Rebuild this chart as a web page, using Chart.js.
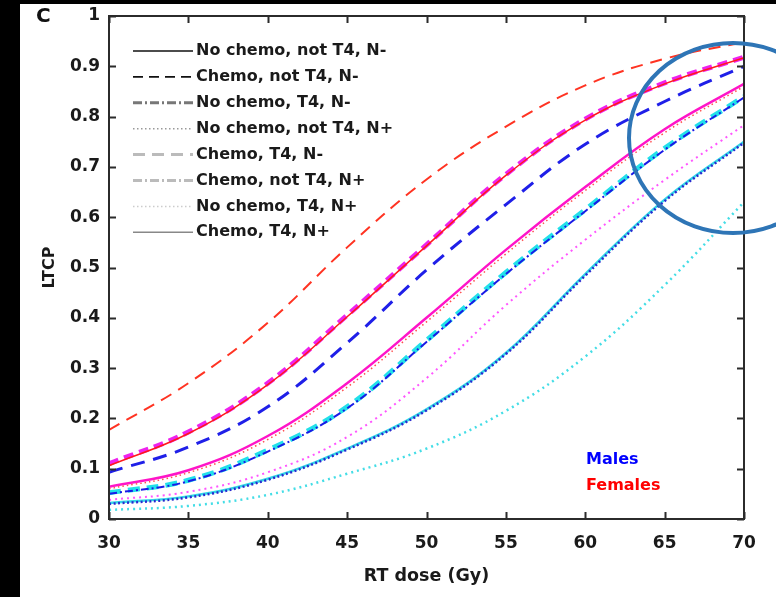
<!DOCTYPE html>
<html>
<head>
<meta charset="utf-8">
<script src="https://cdn.jsdelivr.net/npm/chart.js@4.4.1/dist/chart.umd.min.js"></script>
<style>
    html, body { margin: 0; padding: 0; background: #000; }
    #panel { position: absolute; left: 20px; top: 4px; width: 756px; height: 593px; background: #fff; }
    canvas { display: block; }
</style>
</head>
<body>
<div id="panel"><canvas id="ltcpChart" width="756" height="593"></canvas></div>
<script>
// RT dose (Gy)
const doses = [30, 35, 40, 45, 50, 55, 60, 65, 70];

// Females
const femChemoNotT4Nneg   = [0.177, 0.27, 0.39, 0.54, 0.675, 0.78, 0.862, 0.915, 0.948];
const femChemoT4Nneg      = [0.11, 0.173, 0.27, 0.405, 0.545, 0.685, 0.795, 0.867, 0.918];
const femNoChemoNotT4Nneg = [0.106, 0.17, 0.267, 0.402, 0.543, 0.683, 0.793, 0.865, 0.917];
const femChemoT4Npos      = [0.064, 0.097, 0.165, 0.27, 0.40, 0.535, 0.66, 0.775, 0.865];
const femNoChemoNotT4Npos = [0.06, 0.092, 0.158, 0.262, 0.392, 0.527, 0.653, 0.768, 0.86];
const femNoChemoT4Npos    = [0.038, 0.054, 0.093, 0.163, 0.28, 0.425, 0.555, 0.674, 0.783];

// Males
const maleChemoNotT4Nneg   = [0.093, 0.143, 0.223, 0.35, 0.495, 0.625, 0.745, 0.83, 0.90];
const maleChemoT4Nneg      = [0.052, 0.077, 0.137, 0.223, 0.355, 0.49, 0.615, 0.737, 0.84];
const maleNoChemoT4Nneg    = [0.05, 0.075, 0.134, 0.22, 0.352, 0.487, 0.612, 0.734, 0.838];
const maleChemoT4Npos      = [0.032, 0.045, 0.08, 0.14, 0.218, 0.33, 0.487, 0.635, 0.75];
const maleNoChemoNotT4Npos = [0.03, 0.043, 0.078, 0.138, 0.216, 0.328, 0.484, 0.632, 0.748];
const maleNoChemoT4Npos    = [0.018, 0.026, 0.048, 0.09, 0.14, 0.215, 0.323, 0.465, 0.63];

// legend entries (grey-scale key)
const legendLabels = [
    'No chemo, not T4, N-',
    'Chemo, not T4, N-',
    'No chemo, T4, N-',
    'No chemo, not T4, N+',
    'Chemo, T4, N-',
    'Chemo, not T4, N+',
    'No chemo, T4, N+',
    'Chemo, T4, N+'
];
const legendStyles = [
    { color: '#111', width: 1.5, dash: [] },
    { color: '#111', width: 1.8, dash: [10, 6] },
    { color: '#777', width: 3, dash: [9, 3, 2, 3] },
    { color: '#999', width: 1.5, dash: [1.5, 2.5] },
    { color: '#bbb', width: 3, dash: [12, 7] },
    { color: '#bbb', width: 3, dash: [9, 3, 2, 3] },
    { color: '#ccc', width: 1.5, dash: [1.5, 2.5] },
    { color: '#888', width: 1.5, dash: [] }
];

const FONT = '"DejaVu Sans", sans-serif';

function series(label, values, color, width, dash) {
    return {
        label: label,
        data: doses.map((d, i) => ({ x: d, y: values[i] })),
        borderColor: color,
        borderWidth: width,
        borderDash: dash,
        pointRadius: 0,
        fill: false,
        tension: 0.4
    };
}

// first dataset ends up on top
const datasets = [
    series('Females: No chemo, not T4, N-', femNoChemoNotT4Nneg, '#ff1a1a', 1.5, []),
    series('Males: No chemo, T4, N-', maleNoChemoT4Nneg, '#1a1ae6', 2, [8, 3, 2, 3]),
    series('Males: No chemo, not T4, N+', maleNoChemoNotT4Npos, '#2a2ad0', 2.5, [2, 2.5]),
    series('Females: No chemo, not T4, N+', femNoChemoNotT4Npos, '#ff4d4d', 1.5, [1.5, 3]),
    series('Females: Chemo, not T4, N-', femChemoNotT4Nneg, '#ff3322', 2, [12, 8]),
    series('Males: Chemo, not T4, N-', maleChemoNotT4Nneg, '#1f1fe8', 3, [14, 9]),
    series('Females: Chemo, T4, N+', femChemoT4Npos, '#ff14c8', 2.5, []),
    series('Females: No chemo, T4, N+', femNoChemoT4Npos, '#ff55ff', 2, [2, 4]),
    series('Males: Chemo, T4, N+', maleChemoT4Npos, '#33d6e8', 2.5, []),
    series('Males: No chemo, T4, N+', maleNoChemoT4Npos, '#44dde6', 2.5, [2, 4]),
    series('Females: Chemo, T4, N-', femChemoT4Nneg, '#ee22ee', 5, [10, 6]),
    series('Males: Chemo, T4, N-', maleChemoT4Nneg, '#22e0ea', 5, [12, 7])
];

// box, inward tick marks, key, sex labels and the highlight ring
const decorations = {
    id: 'decorations',
    afterDraw(chart) {
        const ctx = chart.ctx;
        const area = chart.chartArea;
        const xs = chart.scales.x;
        const ys = chart.scales.y;
        ctx.save();

        ctx.strokeStyle = '#2b2b2b';
        ctx.lineWidth = 2;
        ctx.strokeRect(area.left, area.top, area.right - area.left, area.bottom - area.top);

        const tick = 7;
        ctx.beginPath();
        xs.ticks.forEach((t, i) => {
            const px = Math.round(xs.getPixelForTick(i)) + 0.5;
            ctx.moveTo(px, area.bottom); ctx.lineTo(px, area.bottom - tick);
            ctx.moveTo(px, area.top); ctx.lineTo(px, area.top + tick);
        });
        ys.ticks.forEach((t, i) => {
            const py = Math.round(ys.getPixelForTick(i)) + 0.5;
            ctx.moveTo(area.left, py); ctx.lineTo(area.left + tick, py);
            ctx.moveTo(area.right, py); ctx.lineTo(area.right - tick, py);
        });
        ctx.stroke();

        // key
        ctx.font = 'bold 16px ' + FONT;
        ctx.textBaseline = 'middle';
        ctx.textAlign = 'left';
        legendLabels.forEach((label, i) => {
            const y = area.top + 35 + i * 25.9;
            const st = legendStyles[i];
            ctx.strokeStyle = st.color;
            ctx.lineWidth = st.width;
            ctx.setLineDash(st.dash);
            ctx.beginPath();
            ctx.moveTo(113, y);
            ctx.lineTo(173, y);
            ctx.stroke();
            ctx.setLineDash([]);
            ctx.fillStyle = '#1a1a1a';
            ctx.fillText(label, 176, y);
        });

        ctx.font = 'bold 16px ' + FONT;
        ctx.fillStyle = '#0000ff';
        ctx.fillText('Males', 566, 456);
        ctx.fillStyle = '#ff0000';
        ctx.fillText('Females', 566, 482);

        ctx.font = 'bold 20px ' + FONT;
        ctx.fillStyle = '#111';
        ctx.fillText('C', 16, 13);

        ctx.strokeStyle = '#2e75b6';
        ctx.lineWidth = 4;
        ctx.beginPath();
        ctx.ellipse(713, 134, 104, 95, 0, 0, Math.PI * 2);
        ctx.stroke();

        ctx.restore();
    }
};

const ctx = document.getElementById('ltcpChart');
Chart.defaults.font.family = FONT;
Chart.defaults.color = '#1a1a1a';

new Chart(ctx, {
    type: 'line',
    data: { datasets: datasets },
    options: {
        responsive: false,
        animation: false,
        devicePixelRatio: 1,
        layout: { padding: { top: 12, right: 32, left: 0, bottom: 0 } },
        plugins: {
            legend: { display: false },
            tooltip: { enabled: false }
        },
        scales: {
            x: {
                type: 'linear',
                min: 30,
                max: 70,
                grid: { display: false, drawTicks: false },
                border: { display: false },
                ticks: { stepSize: 5, padding: 14, font: { size: 17, weight: 'bold' } },
                title: { display: true, text: 'RT dose (Gy)', padding: { bottom: 10 }, font: { size: 17.5, weight: 'bold' } },
                afterFit(scale) {
                    scale.height = 78;
                    scale.paddingLeft = 0;
                    scale.paddingRight = 0;
                }
            },
            y: {
                min: 0,
                max: 1,
                grid: { display: false, drawTicks: false },
                border: { display: false },
                ticks: {
                    stepSize: 0.1,
                    padding: 9,
                    font: { size: 17, weight: 'bold' },
                    callback: (v) => String(Number(v.toFixed(1)))
                },
                title: { display: true, text: 'LTCP', padding: { top: 20 }, font: { size: 16, weight: 'bold' } },
                afterFit(scale) {
                    scale.width = 89;
                    scale.paddingTop = 0;
                    scale.paddingBottom = 0;
                }
            }
        }
    },
    plugins: [decorations]
});
</script>
</body>
</html>
